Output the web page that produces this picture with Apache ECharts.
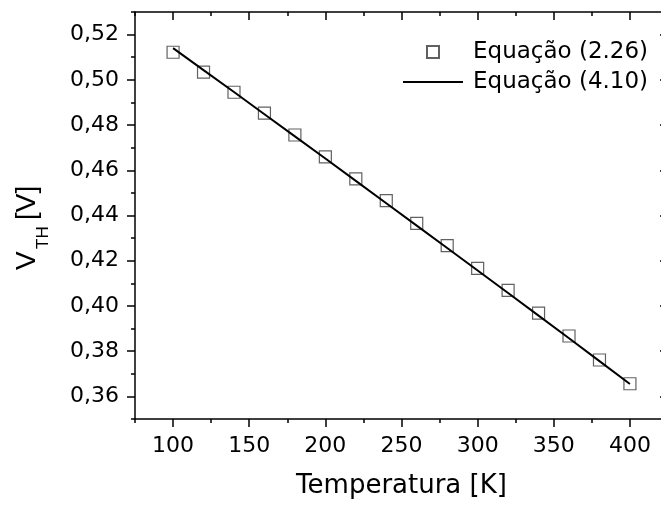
<!DOCTYPE html>
<html>
<head>
<meta charset="utf-8">
<script src="https://cdn.jsdelivr.net/npm/echarts@6/dist/echarts.min.js"></script>
<style>
html,body{margin:0;padding:0;background:#fff;}
#chart{width:661px;height:506px;}
</style>
</head>
<body>
<div id="chart"></div>
<script>
// Data
var temperatures = [100,120,140,160,180,200,220,240,260,280,300,320,340,360,380,400];
var eq226 = [0.5122,0.5034,0.4945,0.4853,0.4756,0.4659,0.4562,0.4466,0.4365,0.4267,0.4166,0.4069,0.3968,0.3867,0.3761,0.3656];
var eq410 = [0.5140,0.5043,0.4946,0.4848,0.4750,0.4652,0.4553,0.4454,0.4355,0.4256,0.4157,0.4057,0.3957,0.3857,0.3756,0.3655];
var xMajorTicks = [100,150,200,250,300,350,400];
var xMinorTicks = [75,125,175,225,275,325,375,425];
var yMajorTicks = [0.36,0.38,0.40,0.42,0.44,0.46,0.48,0.50,0.52];
var yMinorTicks = [0.35,0.37,0.39,0.41,0.43,0.45,0.47,0.49,0.51,0.53];
var seriesNames = ['Equação (2.26)','Equação (4.10)'];
var xTitle = 'Temperatura [K]';

var chart = echarts.init(document.getElementById('chart'));
var axisLineStyle = {color:'#000', width:1.5};
function pairs(xs, ys){ return xs.map(function(x,i){return [x, ys[i]];}); }

function xAx(pos, values, len, inside, show, labels){
  return {
    type:'value', position:pos, min:75, max:425,
    axisLine:{show:show, onZero:false, lineStyle:axisLineStyle},
    axisTick:{show:true, customValues:values, length:len, inside:inside, lineStyle:{color:'#000', width:1.5}},
    axisLabel: labels ? {show:true, customValues:values, margin:16, color:'#000', fontFamily:'DejaVu Sans', fontSize:22} : {show:false},
    splitLine:{show:false}
  };
}
function yAx(pos, values, len, inside, show, labels){
  return {
    type:'value', position:pos, min:0.35, max:0.53,
    axisLine:{show:show, onZero:false, lineStyle:axisLineStyle},
    axisTick:{show:true, customValues:values, length:len, inside:inside, lineStyle:{color:'#000', width:1.5}},
    axisLabel: labels ? {show:true, customValues:values, margin:16, color:'#000', fontFamily:'DejaVu Sans', fontSize:22,
      formatter:function(v){return v.toFixed(2).replace('.', ',');}} : {show:false},
    splitLine:{show:false}
  };
}

var option = {
  backgroundColor:'#fff',
  animation:false,
  grid:{left:135, top:12, width:533, height:407, containLabel:false, outerBoundsMode:'none'},
  xAxis:[
    Object.assign(xAx('bottom', xMajorTicks, 8, false, true, true), {
      name:xTitle, nameLocation:'middle', nameGap:54,
      nameTextStyle:{color:'#000', fontFamily:'DejaVu Sans', fontSize:26}
    }),
    xAx('bottom', xMinorTicks, 4, false, false, false),
    xAx('top', xMajorTicks, 8, true, true, false),
    xAx('top', xMinorTicks, 4, true, false, false)
  ],
  yAxis:[
    yAx('left', yMajorTicks, 8, false, true, true),
    yAx('left', yMinorTicks, 4, false, false, false),
    yAx('right', yMajorTicks, 8, true, true, false),
    yAx('right', yMinorTicks, 4, true, false, false)
  ],
  legend:{
    orient:'vertical', left:398, top:35, itemWidth:60, itemHeight:12, itemGap:6,
    symbolKeepAspect:true,
    textStyle:{color:'#000', fontFamily:'DejaVu Sans', fontSize:23, lineHeight:24, padding:[0,0,0,5]},
    data:[
      {name:seriesNames[0], icon:'path://M0,0H10V10H0Z'},
      {name:seriesNames[1], icon:'path://M0,0H60V2H0Z', itemStyle:{color:'#000', borderWidth:0}}
    ]
  },
  series:[
    {
      name:seriesNames[0], type:'scatter', xAxisIndex:0, yAxisIndex:0,
      data:pairs(temperatures, eq226), symbol:'rect', symbolSize:12, z:2,
      itemStyle:{color:'rgba(255,255,255,0)', borderColor:'#3a3a3a', borderWidth:1.2}
    },
    {
      name:seriesNames[1], type:'line', xAxisIndex:0, yAxisIndex:0,
      data:pairs(temperatures, eq410), showSymbol:false, symbol:'none', z:3,
      lineStyle:{color:'#000', width:2}, itemStyle:{color:'#000'}
    }
  ],
  graphic:[{
    type:'group', x:27, y:270, rotation:Math.PI/2,
    children:[
      {type:'text', x:0, y:0, style:{text:'V', fontFamily:'Liberation Sans', fontSize:28, fill:'#000', textAlign:'left', textVerticalAlign:'middle'}},
      {type:'text', x:21, y:16.5, style:{text:'TH', fontFamily:'Liberation Sans', fontSize:17, fill:'#000', textAlign:'left', textVerticalAlign:'middle'}},
      {type:'text', x:50, y:0, style:{text:'[V]', fontFamily:'Liberation Sans', fontSize:28, fill:'#000', textAlign:'left', textVerticalAlign:'middle'}}
    ]
  }]
};
chart.setOption(option);
</script>
</body>
</html>
